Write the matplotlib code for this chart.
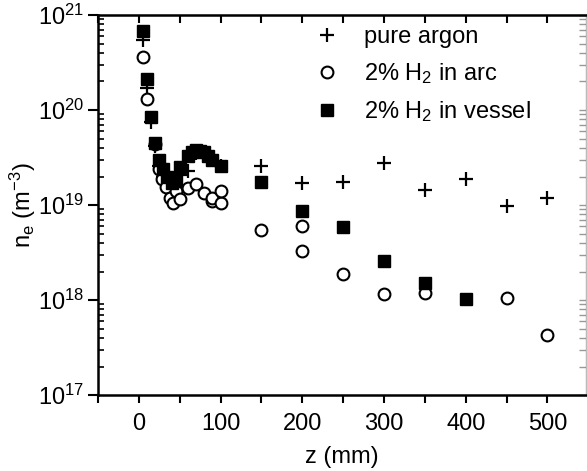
import matplotlib
matplotlib.use("Agg")
import matplotlib.pyplot as plt
from matplotlib.ticker import LogLocator, MultipleLocator, NullFormatter
import numpy as np

plt.rcParams['font.family'] = ['Liberation Sans', 'DejaVu Sans']
plt.rcParams['mathtext.fontset'] = 'custom'
plt.rcParams['mathtext.rm'] = 'Liberation Sans'
plt.rcParams['mathtext.it'] = 'Liberation Sans'

# pure argon
z_ar = [5, 10, 15, 20, 25, 30, 35, 40, 45, 50, 60, 70, 80, 90, 100,
        150, 200, 250, 300, 350, 400, 450, 500]
ne_ar = [5.5e20, 1.7e20, 7.5e19, 4.2e19, 2.6e19, 2.0e19, 1.7e19, 1.5e19, 1.8e19,
         2.1e19, 2.3e19, 3.5e19, 3.4e19, 3.1e19, 2.6e19,
         2.6e19, 1.7e19, 1.75e19, 2.8e19, 1.45e19, 1.9e19, 9.8e18, 1.2e19]

# 2% H2 in arc
z_arc = [5, 10, 20, 25, 28, 33, 38, 42, 45, 50, 60, 70, 80, 90, 90, 100, 100,
         150, 200, 200, 250, 300, 350, 450, 500]
ne_arc = [3.6e20, 1.3e20, 4.4e19, 2.4e19, 1.9e19, 1.55e19, 1.2e19, 1.05e19, 1.4e19,
          1.15e19, 1.5e19, 1.65e19, 1.35e19, 1.1e19, 1.2e19, 1.05e19, 1.4e19,
          5.5e18, 6.0e18, 3.3e18, 1.9e18, 1.15e18, 1.18e18, 1.05e18, 4.3e17]

# 2% H2 in vessel
z_ves = [5, 10, 15, 20, 25, 30, 35, 40, 45, 50, 60, 65, 70, 75, 80, 85, 90, 100,
         150, 200, 250, 300, 350, 400]
ne_ves = [6.8e20, 2.1e20, 8.5e19, 4.5e19, 3.0e19, 2.4e19, 2.0e19, 1.7e19, 1.8e19,
          2.5e19, 3.3e19, 3.6e19, 3.8e19, 3.7e19, 3.6e19, 3.3e19, 3.0e19, 2.6e19,
          1.75e19, 8.7e18, 5.9e18, 2.6e18, 1.5e18, 1.02e18]

fig = plt.figure(figsize=(5.87, 4.71), dpi=100)
ax = fig.add_axes([0.167, 0.161, 0.831, 0.807])

ax.plot(z_ar, ne_ar, linestyle='none', marker='+', color='black',
        markersize=10, markeredgewidth=1.6, label='pure argon')
ax.plot(z_arc, ne_arc, linestyle='none', marker='o', markerfacecolor='white',
        markeredgecolor='black', markersize=8.5, markeredgewidth=1.5,
        label='2% H$_2$ in arc')
ax.plot(z_ves, ne_ves, linestyle='none', marker='s', color='black',
        markersize=8, label='2% H$_2$ in vessel')

ax.set_yscale('log')
ax.set_ylim(1e17, 1e21)
ax.set_xlim(-50, 547)

ax.xaxis.set_major_locator(MultipleLocator(100))
ax.xaxis.set_minor_locator(MultipleLocator(50))
ax.yaxis.set_major_locator(LogLocator(base=10, numticks=10))
ax.yaxis.set_minor_locator(LogLocator(base=10, subs=np.arange(2, 10), numticks=10))
ax.yaxis.set_minor_formatter(NullFormatter())

ax.tick_params(axis='x', which='both', direction='out', length=6, width=1.5,
               labelsize=17, pad=7)
ax.tick_params(axis='y', which='major', direction='out', length=7, width=1.5,
               labelsize=17, pad=3)
ax.tick_params(axis='y', which='minor', direction='in', length=4, width=1.2)

for side in ['left', 'bottom', 'top']:
    ax.spines[side].set_linewidth(1.8)
ax.spines['right'].set_color('#bbbbbb')
ax.spines['right'].set_linewidth(0.8)

top = ax.secondary_xaxis('top')
top.xaxis.set_major_locator(MultipleLocator(50))
top.tick_params(direction='in', length=6, width=1.5, labeltop=False)

right = ax.secondary_yaxis('right')
right.set_yscale('log')
right.tick_params(which='both', direction='in', colors='#999999', labelright=False,
                  length=5, width=1)

ax.set_xlabel('z (mm)', fontsize=17, labelpad=8)
ax.set_ylabel('n$_\\mathregular{e}$ (m$^{-3}$)', fontsize=17, labelpad=0)

ax.legend(loc='upper left', bbox_to_anchor=(0.405, 1.015), frameon=False,
          fontsize=17, handletextpad=0.9, labelspacing=0.55, borderaxespad=0.3,
          handlelength=1.3)

fig.savefig('out.png', dpi=100)
